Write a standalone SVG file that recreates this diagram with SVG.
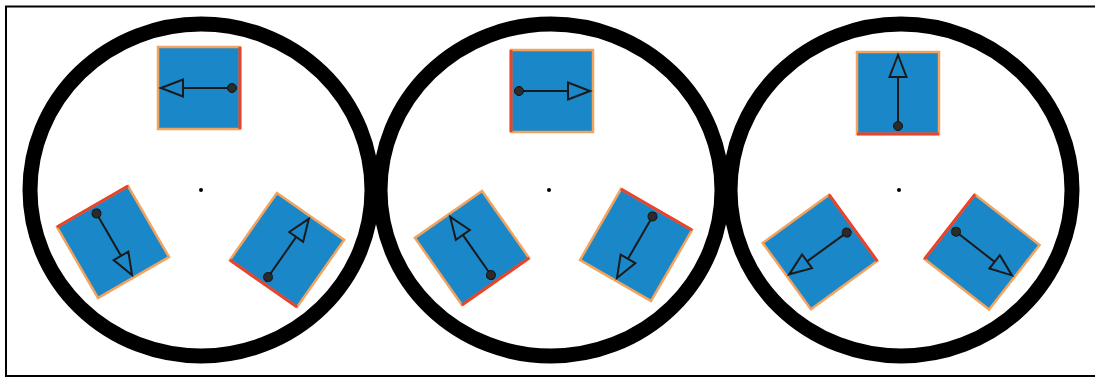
<svg xmlns="http://www.w3.org/2000/svg" xmlns:xlink="http://www.w3.org/1999/xlink" width="1095" height="378" viewBox="0 0 1095 378">
<style>
.frame{fill:none;stroke:#000;stroke-width:2}
.ring{fill:none;stroke:#000;stroke-width:15}
.hub{fill:#000}
.body{fill:#1a87c9;stroke:#f2a35e;stroke-width:2.5}
.edge{stroke:#e8432b;stroke-width:3}
.shaft{stroke:#1a1a1a;stroke-width:2}
.head{fill:#1a87c9;stroke:#1a1a1a;stroke-width:2}
.pin{fill:#2b2b2b;stroke:#111;stroke-width:1}
</style>
<defs>
<g id="sq">
<rect class="body" x="-41" y="-41" width="82" height="82"/>
<line class="edge" x1="41" y1="-41" x2="41" y2="41"/>
<line class="shaft" x1="33" y1="0" x2="-16" y2="0"/>
<polygon class="head" points="-38,0 -16,-8.5 -16,8.5"/>
<circle class="pin" cx="33" cy="0" r="4.5"/>
</g>
</defs>
<rect width="1095" height="378" fill="#fff"/>
<path class="frame" d="M1095,6.5 H6 V376 H1095"/>
<g id="rings">
<ellipse class="ring" cx="201" cy="190" rx="171" ry="166"/>
<ellipse class="ring" cx="551" cy="190" rx="171" ry="166"/>
<ellipse class="ring" cx="901" cy="190" rx="171" ry="166"/>
<circle class="hub" cx="201" cy="190" r="2"/>
<circle class="hub" cx="549" cy="190" r="2"/>
<circle class="hub" cx="899" cy="190" r="2"/>
</g>
<g id="c1-top" transform="translate(199,88)"><use xlink:href="#sq"/></g>
<g id="c1-bl" transform="translate(113,242) rotate(-120)"><use xlink:href="#sq"/></g>
<g id="c1-br" transform="translate(287,250) rotate(125)"><use xlink:href="#sq"/></g>
<g id="c2-top" transform="translate(552,91) rotate(180)"><use xlink:href="#sq"/></g>
<g id="c2-bl" transform="translate(472,248) rotate(55)"><use xlink:href="#sq"/></g>
<g id="c2-br" transform="translate(636,245) rotate(-60)"><use xlink:href="#sq"/></g>
<g id="c3-top" transform="translate(898,93) rotate(90)"><use xlink:href="#sq"/></g>
<g id="c3-bl" transform="translate(820,252) rotate(-36)"><use xlink:href="#sq"/></g>
<g id="c3-br" transform="translate(982,252) rotate(-142)"><use xlink:href="#sq"/></g>
<g id="connectors"/>
</svg>
